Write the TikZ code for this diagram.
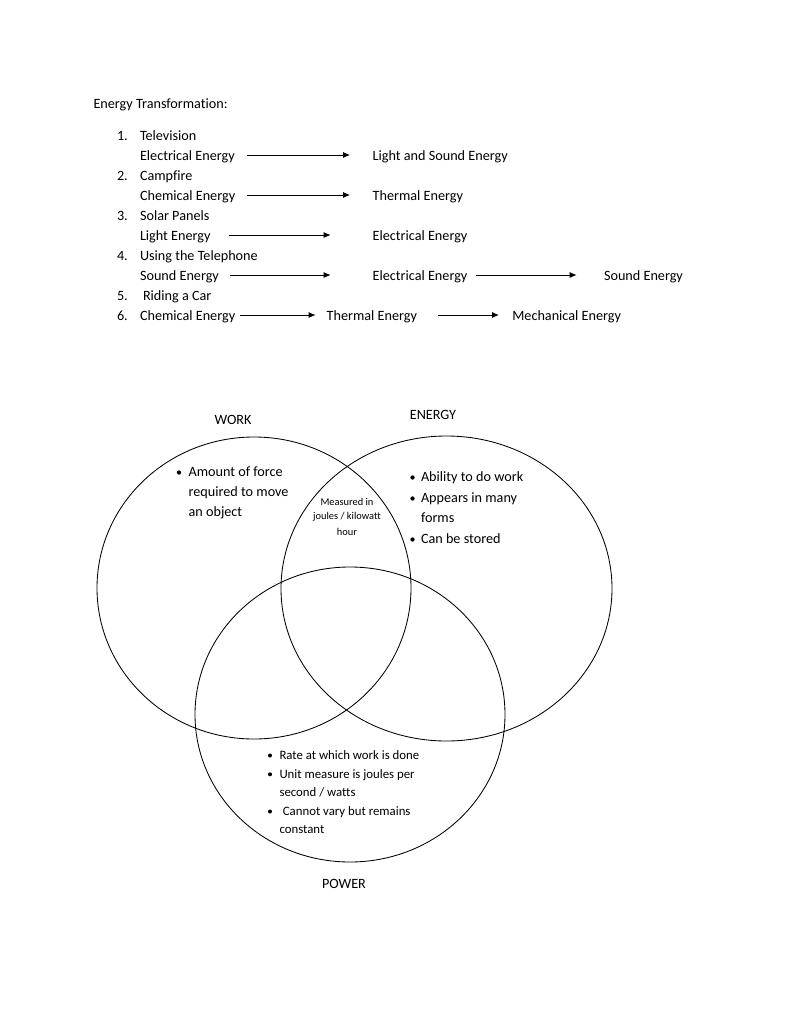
\documentclass[tikz,border=0pt]{standalone}
\usepackage{fontspec}
\setmainfont{Carlito}[Ligatures={NoCommon}]
\usetikzlibrary{arrows.meta}
\tikzset{
  txt/.style={inner sep=0pt, outer sep=0pt, anchor=base west, text height=11pt, text depth=1pt, font=\fontsize{14.2}{20}\selectfont},
  lbl/.style={inner sep=0pt, anchor=base, font=\fontsize{14.2}{20}\selectfont},
  ptxt/.style={inner sep=0pt, anchor=base west, font=\fontsize{12.8}{18}\selectfont},
  ctxt/.style={inner sep=0pt, anchor=base, font=\fontsize{10.4}{15}\selectfont},
  arr/.style={line width=0.9pt, -{Latex[length=7pt,width=6pt]}},
  venn/.style={line width=0.85pt},
  bul/.style={circle, fill=black, inner sep=0pt, minimum size=4.3pt},
}
\begin{document}
\begin{tikzpicture}[x=1pt,y=-1pt]
\useasboundingbox (0,0) rectangle (791,1023);
% title
\node[txt] (title) at (93.5,108) {Energy Transformation:};
% numbers
\node[txt] (n1) at (117,140) {1.};
\node[txt] (n2) at (117,180) {2.};
\node[txt] (n3) at (117,220) {3.};
\node[txt] (n4) at (117,260) {4.};
\node[txt] (n5) at (117,300) {5.};
\node[txt] (n6) at (117,320) {6.};
% items
\node[txt] (tv) at (140,140) {Television};
\node[txt] (e1) at (140,160) {Electrical Energy};
\node[txt] (l1) at (372.7,160) {Light and Sound Energy};
\node[txt] (cf) at (140,180) {Campfire};
\node[txt] (c2) at (140,200) {Chemical Energy};
\node[txt] (t2) at (372.7,200) {Thermal Energy};
\node[txt] (sp) at (140,220) {Solar Panels};
\node[txt] (l3) at (140,240) {Light Energy};
\node[txt] (e3) at (372.7,240) {Electrical Energy};
\node[txt] (ut) at (140,260) {Using the Telephone};
\node[txt] (s4) at (140,280) {Sound Energy};
\node[txt] (e4) at (372.7,280) {Electrical Energy};
\node[txt] (s4b) at (604,280) {Sound Energy};
\node[txt] (rc) at (143,300) {Riding a Car};
\node[txt] (c6) at (140,320) {Chemical Energy};
\node[txt] (t6) at (326.7,320) {Thermal Energy};
\node[txt] (m6) at (512.3,320) {Mechanical Energy};
% arrows
\draw[arr, shorten <=12.5pt, shorten >=22.7pt] (e1) -- (l1);
\draw[arr, shorten <=11.6pt, shorten >=22.7pt] (c2) -- (t2);
\draw[arr, shorten <=18pt, shorten >=42pt] (l3) -- (e3);
\draw[arr, shorten <=11pt, shorten >=42pt] (s4) -- (e4);
\draw[arr, shorten <=8.3pt, shorten >=27.3pt] (e4) -- (s4b);
\draw[arr, shorten <=5pt, shorten >=11pt] (c6) -- (t6);
\draw[arr, shorten <=21pt, shorten >=13.3pt] (t6) -- (m6);
% Venn ellipses
\draw[venn] (254,588) ellipse [x radius=157pt, y radius=151pt];
\draw[venn] (446.5,588.5) ellipse [x radius=165.5pt, y radius=152.5pt];
\draw[venn] (350,714.5) ellipse [x radius=155pt, y radius=147.5pt];
% labels
\node[lbl] (work) at (233,424.5) {WORK};
\node[lbl] (energy) at (433,419.5) {ENERGY};
\node[lbl] (power) at (344,888.5) {POWER};
% work bullets
\node[bul] (wb1) at (179,472.5) {};
\node[txt] (w1) at (188.6,476.5) {Amount of force};
\node[txt] (w2) at (188.6,496.5) {required to move};
\node[txt] (w3) at (188.6,516.5) {an object};
% energy bullets
\node[bul] (eb1) at (412.5,477.5) {};
\node[txt] (en1) at (421,481) {Ability to do work};
\node[bul] (eb2) at (412.5,498.5) {};
\node[txt] (en2) at (421,502) {Appears in many};
\node[txt] (en3) at (421,522) {forms};
\node[bul] (eb3) at (412.5,539.5) {};
\node[txt] (en4) at (421,543) {Can be stored};
% center
\node[ctxt] (m1) at (347,505.5) {Measured in};
\node[ctxt] (m2) at (347,519.5) {joules / kilowatt};
\node[ctxt] (m3) at (347,535.5) {hour};
% power bullets
\node[bul, minimum size=4pt] (pb1) at (270,755.5) {};
\node[ptxt] (p1) at (279.3,759.3) {Rate at which work is done};
\node[bul, minimum size=4pt] (pb2) at (270,774.3) {};
\node[ptxt] (p2) at (279.3,778) {Unit measure is joules per};
\node[ptxt] (p3) at (279.3,796) {second / watts};
\node[bul, minimum size=4pt] (pb3) at (270,811.5) {};
\node[ptxt] (p4) at (282.7,815) {Cannot vary but remains};
\node[ptxt] (p5) at (279.3,833) {constant};
\end{tikzpicture}
\end{document}
